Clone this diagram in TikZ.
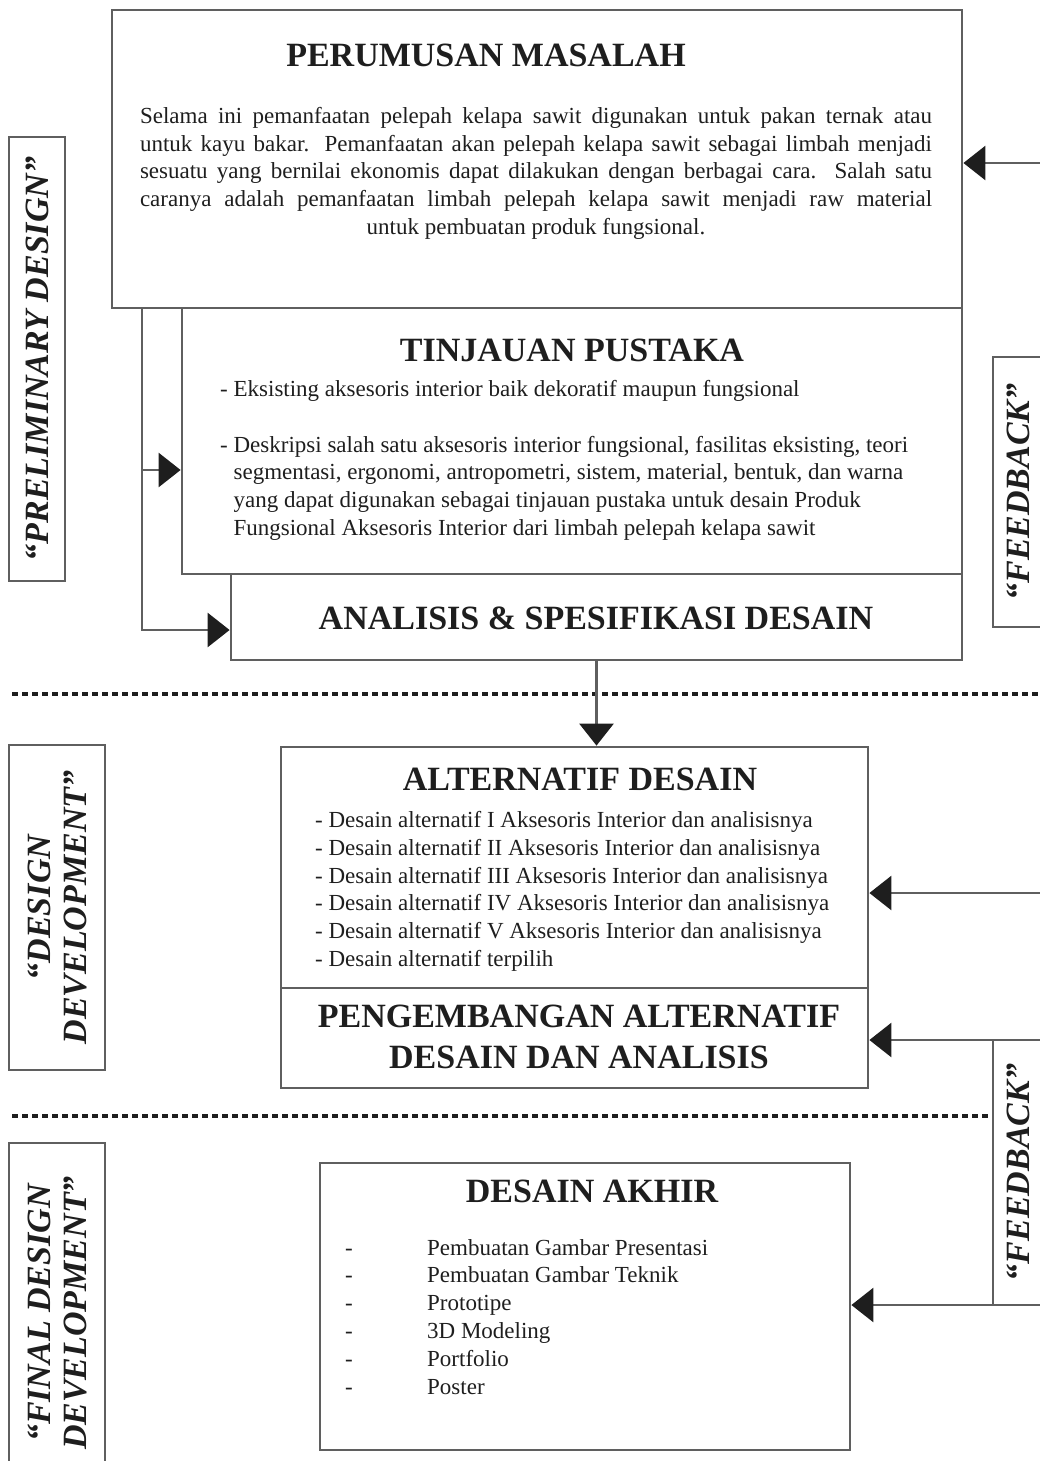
\documentclass[tikz,border=0pt]{standalone}
\usepackage{fontspec}
\setmainfont{Liberation Serif}
\usetikzlibrary{arrows.meta}
\definecolor{edge}{RGB}{95,95,95}
\definecolor{ink}{RGB}{30,30,30}
\newcommand{\headfont}{\fontsize{34}{41}\selectfont\bfseries}
\newcommand{\phasefont}{\fontsize{34}{36}\selectfont\bfseries\itshape}
\newcommand{\listfont}{\fontsize{23}{27.8}\selectfont}

\begin{document}
\begin{tikzpicture}[x=1pt, y=-1pt,
	box/.style={draw=edge, line width=2.8pt, inner sep=0pt},
	head/.style={font=\headfont, text=ink, inner sep=0pt},
	txt/.style={font=\listfont, text=ink, inner sep=0pt, align=left},
	phase/.style={draw=edge, line width=2.8pt, rotate=90, font=\phasefont, text=ink, align=center, inner sep=0pt},
	sep/.style={draw=ink, line width=3.5pt, dash pattern=on 6pt off 4pt},
	>={Triangle[length=22pt, width=34pt, color=ink]},
	arr/.style={draw=edge, line width=2.8pt, ->}]
	\useasboundingbox (0,0) rectangle (1040,1461);

	% phase labels
	\node[phase, minimum width=444pt, minimum height=56pt] (PD) at (37,359) {“PRELIMINARY DESIGN”};
	\node[phase, minimum width=325pt, minimum height=96pt] (DD) at (57,907.5) {“DESIGN\\DEVELOPMENT”};
	\node[phase, minimum width=340pt, minimum height=96pt] (FD) at (57,1313) {“FINAL DESIGN\\DEVELOPMENT”};
	\node[phase, minimum width=270pt, minimum height=51pt] (FB1) at (1018.5,492) {“FEEDBACK”};
	\node[phase, minimum width=265pt, minimum height=51pt] (FB2) at (1018.5,1172.5) {“FEEDBACK”};

	% boxes
	\node[box, minimum width=850pt, minimum height=298pt] (PM) at (537,159) {};
	\node[box, minimum width=780pt, minimum height=266pt] (TP) at (572,441) {};
	\node[box, minimum width=731pt, minimum height=86pt] (AN) at (596.5,617) {};
	\node[box, minimum width=587pt, minimum height=241pt] (AD) at (574.5,867.5) {};
	\node[box, minimum width=587pt, minimum height=100pt] (PG) at (574.5,1038) {};
	\node[box, minimum width=530pt, minimum height=287pt] (DA) at (585,1306.5) {};

	\node[head] (PMh) at (486,55) {PERUMUSAN MASALAH};
	\node[font=\listfont, text=ink, inner sep=0pt, anchor=north] (PMt) at (536,107) {\parbox[t]{792pt}{\leftskip=0pt plus .5fil\rightskip=0pt plus -.5fil\parfillskip=0pt plus 1fil
		Selama ini pemanfaatan pelepah kelapa sawit digunakan untuk pakan ternak atau\linebreak
		untuk kayu bakar. Pemanfaatan akan pelepah kelapa sawit sebagai limbah menjadi\linebreak
		sesuatu yang bernilai ekonomis dapat dilakukan dengan berbagai cara. Salah satu\linebreak
		caranya adalah pemanfaatan limbah pelepah kelapa sawit menjadi raw material\linebreak
		untuk pembuatan produk fungsional.}};

	\node[head] (TPh) at (572,350) {TINJAUAN PUSTAKA};
	\node[txt, anchor=north west] (TPt) at (220,380) {- Eksisting aksesoris interior baik dekoratif maupun fungsional\\[27.8pt]
		- Deskripsi salah satu aksesoris interior fungsional, fasilitas eksisting, teori\\
		\hphantom{- }segmentasi, ergonomi, antropometri, sistem, material, bentuk, dan warna\\
		\hphantom{- }yang dapat digunakan sebagai tinjauan pustaka untuk desain Produk\\
		\hphantom{- }Fungsional Aksesoris Interior dari limbah pelepah kelapa sawit};

	\node[head] (ANh) at (596,618) {ANALISIS \& SPESIFIKASI DESAIN};

	\node[head] (ADh) at (580,779) {ALTERNATIF DESAIN};
	\node[txt, anchor=north west] (ADt) at (315,811) {- Desain alternatif I Aksesoris Interior dan analisisnya\\
		- Desain alternatif II Aksesoris Interior dan analisisnya\\
		- Desain alternatif III Aksesoris Interior dan analisisnya\\
		- Desain alternatif IV Aksesoris Interior dan analisisnya\\
		- Desain alternatif V Aksesoris Interior dan analisisnya\\
		- Desain alternatif terpilih};

	\node[head, align=center] (PGh) at (579,1037) {PENGEMBANGAN ALTERNATIF\\DESAIN DAN ANALISIS};

	\node[head] (DAh) at (592,1191) {DESAIN AKHIR};
	\node[txt, anchor=north west] (DAt) at (345,1239) {\makebox[82pt][l]{-}Pembuatan Gambar Presentasi\\
		\makebox[82pt][l]{-}Pembuatan Gambar Teknik\\
		\makebox[82pt][l]{-}Prototipe\\
		\makebox[82pt][l]{-}3D Modeling\\
		\makebox[82pt][l]{-}Portfolio\\
		\makebox[82pt][l]{-}Poster};

	% phase separators
	\coordinate (s1a) at (12,694);
	\coordinate (s1b) at (1040,694);
	\coordinate (s2a) at (12,1116);
	\draw[sep] (s1a) -- (s1b);
	\draw[sep] (s2a) -- (s2a -| FB2.north);

	% left connectors
	\coordinate (L0) at (142,308);
	\coordinate (L1) at (142,470);
	\coordinate (L2) at (142,630);
	\draw[arr] (L0) -- (L2) -- (L2 -| AN.west);
	\draw[arr] (L1) -- (L1 -| TP.west);
	\draw[arr] (AN.south) -- (AN.south |- AD.north);

	% feedback connectors
	\coordinate (R1) at (1044,163);
	\coordinate (R2) at (1044,893);
	\coordinate (R3) at (1044,1040);
	\coordinate (R4) at (1044,1305);
	\draw[arr] (R1) -- (R1 -| PM.east);
	\draw[arr] (R2) -- (R2 -| AD.east);
	\draw[arr] (R3) -- (R3 -| PG.east);
	\draw[arr] (R4) -- (R4 -| DA.east);
\end{tikzpicture}
\end{document}
